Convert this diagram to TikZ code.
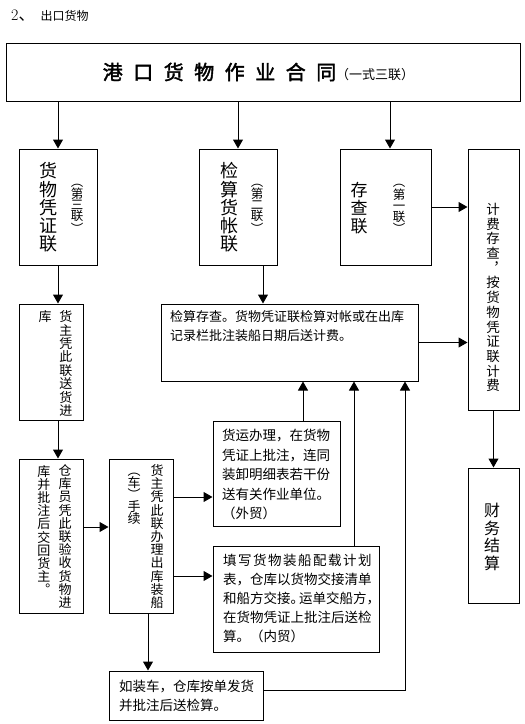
\documentclass[tikz,border=0pt]{standalone}
\usepackage{fontspec}
\usepackage{tikz}
\usetikzlibrary{arrows.meta}
\newfontfamily\cjk{Noto Sans CJK SC}
\newfontfamily\cjkhead[FakeBold=2]{Noto Sans CJK SC}
\newcommand{\hgap}{\hspace{10.5pt}}
\newcommand{\sgap}{\kern1.5pt}

\begin{document}
\begin{tikzpicture}[x=1pt, y=-1pt,
    box/.style 2 args={draw, line width=1pt, inner sep=0pt, minimum width=#1, minimum height=#2},
    arr/.style={line width=1pt, -{Triangle[width=10pt,length=9pt]}},
    txt/.style={font=\cjk\fontsize{13.5}{19.5}\selectfont, align=left, anchor=north west, inner sep=0pt},
    vtxt/.style={font=\cjk\fontsize{13}{13.2}\selectfont, align=center, inner sep=0pt},
    vbig/.style={font=\cjk\fontsize{18}{18.2}\selectfont, align=center, inner sep=0pt},
    vsub/.style={font=\cjk\fontsize{12.5}{11}\selectfont, align=center, inner sep=0pt}]
  \useasboundingbox (0,0) rectangle (525,724);
  % title and header
  \node[anchor=west, inner sep=0pt] (title) at (11,16) {\fontsize{16}{16}\selectfont 2{\cjk 、}\hspace{6pt}{\cjk\fontsize{12}{12}\selectfont 出口货物}};
  \node[box={514pt}{58pt}]  (head)     at (263,72)    {};
  \node[inner sep=0pt]      (headtxt)  at (258.5,72)  {\cjkhead\fontsize{20}{20}\selectfont 港\hgap 口\hgap 货\hgap 物\hgap 作\hgap 业\hgap 合\hgap 同{\cjk\fontsize{13}{13}\selectfont （一式三联）}};
  % three copies
  \node[box={78pt}{116pt}]  (vouch)    at (58,207)    {};
  \node[vbig]               (vouchtxt) at (48,207.5)  {货\\物\\凭\\证\\联};
  \node[vsub]               (vouchsub) at (77,208.5)  {︵\\第\\三\\联\\︶};
  \node[box={78pt}{116pt}]  (acct)     at (238,207)   {};
  \node[vbig]               (accttxt)  at (229,207.5) {检\\算\\货\\帐\\联};
  \node[vsub]               (acctsub)  at (257,208.5) {︵\\第\\二\\联\\︶};
  \node[box={91pt}{116pt}]  (keep)     at (385.5,207) {};
  \node[vbig, font=\cjk\fontsize{17}{17.8}\selectfont] (keeptxt) at (359,208) {存\\查\\联};
  \node[vsub]               (keepsub)  at (399,209)   {︵\\第\\一\\联\\︶};
  % right column
  \node[box={51pt}{261pt}]  (fee)      at (493.5,279.5) {};
  \node[vtxt, font=\cjk\fontsize{13.5}{14.7}\selectfont] (feetxt) at (493,297.5) {计\\费\\存\\查\\︐\\按\\货\\物\\凭\\证\\联\\计\\费};
  \node[box={51pt}{135pt}]  (finance)  at (493.5,535.5) {};
  \node[vbig, font=\cjk\fontsize{16}{17.5}\selectfont] (financetxt) at (492,537) {财\\务\\结\\算};
  % checking box
  \node[box={257pt}{77pt}]  (check)    at (289.5,342.5) {};
  \node[txt, font=\cjk\fontsize{13}{19}\selectfont] (checktxt) at (170,310) {检算存查。货物凭证联检算对帐或在出库\\记录栏批注装船日期后送计费。};
  % left column
  \node[box={64pt}{116pt}]  (stock)    at (51,362)    {};
  \node[vtxt]               (stocktxt) at (45,317)    {库};
  \node[vtxt, font=\cjk\fontsize{13}{13.4}\selectfont] (stocksub) at (66,363.5) {货\\主\\凭\\此\\联\\送\\货\\进};
  \node[box={64pt}{154pt}]  (store)    at (51,536)    {};
  \node[vtxt]               (storetxt) at (65,536.5)  {仓\\库\\员\\凭\\此\\联\\验\\收\\货\\物\\进};
  \node[vtxt, anchor=north] (storesub) at (44,465)    {库\\并\\批\\注\\后\\交\\回\\货\\主\\︒};
  \node[box={64pt}{154pt}]  (ship)     at (141,536)   {};
  \node[vtxt]               (shiptxt)  at (157,536.5) {货\\主\\凭\\此\\联\\办\\理\\出\\库\\装\\船};
  \node[vtxt, font=\cjk\fontsize{13}{12}\selectfont, anchor=north] (shipsub) at (134,473) {︵\\车\\︶\\手\\续};
  % trade boxes
  \node[box={127pt}{105pt}] (foreign)  at (276.5,473.5) {};
  \node[txt]                (foreigntxt) at (222,429) {货运办理，在货物\\凭证上批注，连同\\装卸明细表若干份\\送有关作业单位。\\（外贸）};
  \node[box={166pt}{106pt}] (domestic) at (296,599)   {};
  \node[txt, font=\cjk\fontsize{13.5}{19}\selectfont] (domestictxt) at (223,554) {填\sgap 写\sgap 货\sgap 物\sgap 装\sgap 船\sgap 配\sgap 载\sgap 计\sgap 划\\表，仓库以货物交接清单\\和船方交接。\kern-5pt运单交船方，\\在货物凭证上批注后送检\\算。（内贸）};
  \node[box={154pt}{49pt}]  (truck)    at (186,695.5) {};
  \node[txt, font=\cjk\fontsize{13.5}{19}\selectfont] (trucktxt) at (119,680) {如装车，仓库按单发货\\并批注后送检算。};
  \coordinate (turn) at (405,690);
  % connectors
  \draw[arr] (head.south -| vouch.north) -- (vouch.north);
  \draw[arr] (head.south -| acct.north) -- (acct.north);
  \draw[arr] ([xshift=4.5pt]keep.north |- head.south) -- ([xshift=4.5pt]keep.north);
  \draw[arr] (vouch.south) -- (vouch.south |- stock.north);
  \draw[arr] (stock.south -| vouch.south) -- (store.north -| vouch.south);
  \draw[arr] ([xshift=25pt]acct.south) -- ([xshift=25pt]acct.south |- check.north);
  \draw[arr] (keep.east) -- (keep.east -| fee.west);
  \draw[arr] (check.east) -- (check.east -| fee.west);
  \draw[arr] (fee.south) -- (finance.north);
  \draw[arr] ([yshift=9pt]store.east) -- ([yshift=9pt]store.east -| ship.west);
  \draw[arr] ([yshift=39pt]ship.east) -- ([yshift=39pt]ship.east -| foreign.west);
  \draw[arr] ([yshift=-40pt]ship.east) -- ([yshift=-40pt]ship.east -| domestic.west);
  \draw[arr] ([xshift=7pt]ship.south) -- ([xshift=7pt]ship.south |- truck.north);
  \draw[arr] ([xshift=26.5pt]foreign.north) -- ([xshift=26.5pt]foreign.north |- check.south);
  \draw[arr] ([xshift=58pt]domestic.north) -- ([xshift=58pt]domestic.north |- check.south);
  \draw[arr] (truck.east |- turn) -- (turn) -- (turn |- check.south);
\end{tikzpicture}
\end{document}
